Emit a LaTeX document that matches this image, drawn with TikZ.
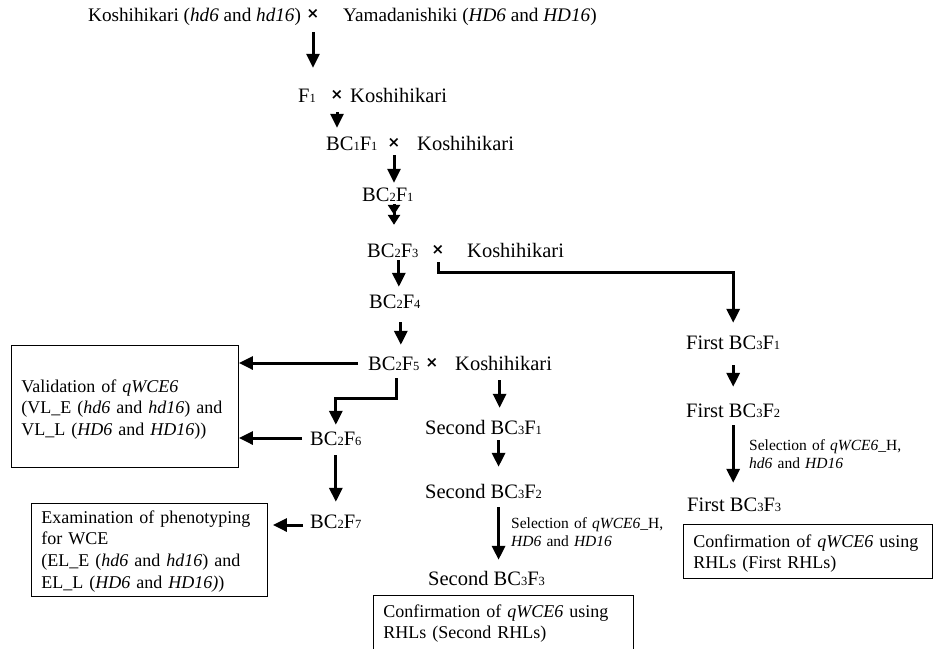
\documentclass[tikz,border=0pt]{standalone}
\usepackage{fontspec}
\setmainfont{Liberation Serif}
\newfontfamily\symfont{DejaVu Sans}
\usetikzlibrary{arrows.meta}

\newcommand{\topfont}{\fontsize{19.2}{23}\selectfont}
\newcommand{\labfont}{\fontsize{20.5}{24}\selectfont}
\newcommand{\boxfont}{\fontsize{18}{21.7}\selectfont}
\newcommand{\selfont}{\fontsize{15.5}{18.7}\selectfont}
\newcommand{\sbs}[1]{{\fontsize{12.5}{12.5}\selectfont #1}}
\newcommand{\crs}{\raisebox{2.5pt}{\fontsize{15}{15}\selectfont\symfont\bfseries ×}}

\begin{document}
\begin{tikzpicture}[x=1pt, y=-1pt,
    lab/.style={inner sep=0pt, text height=14pt, text depth=0pt, anchor=base west, font=\labfont},
    crossmark/.style={lab, anchor=base},
    infobox/.style={draw, line width=0.9pt, anchor=base west, inner xsep=10pt, inner ysep=0pt, align=left, font=\boxfont},
    sel/.style={anchor=base west, inner sep=0pt, align=left, text width=170pt, font=\selfont},
    flow/.style={line width=3pt, -{Triangle[width=13pt, length=14pt]}},
    dflow/.style={line width=3pt, -{Triangle[width=12pt, length=10pt]Triangle[width=12pt, length=10pt]}}]
    \useasboundingbox (0,0) rectangle (933,648);

    % Parents
    \node[lab, font=\topfont] (kosp) at (88,21) {Koshihikari (\textit{hd6} and \textit{hd16})};
    \node[crossmark] (cr0) at (313,21) {\crs};
    \node[lab, font=\topfont] (yam) at (343,21) {Yamadanishiki (\textit{HD6} and \textit{HD16})};

    % Backcrosses
    \node[lab] (f1) at (298,102) {F\sbs{1}};
    \node[crossmark] (cr1) at (337,102) {\crs};
    \node[lab] (kos1) at (350,102) {Koshihikari};

    \node[lab] (bc1f1) at (326,150) {BC\sbs{1}F\sbs{1}};
    \node[crossmark] (cr2) at (394,150) {\crs};
    \node[lab] (kos2) at (417,150) {Koshihikari};

    \node[lab] (bc2f1) at (362,201) {BC\sbs{2}F\sbs{1}};

    \node[lab] (bc2f3) at (367,257) {BC\sbs{2}F\sbs{3}};
    \node[crossmark] (cr4) at (438,257) {\crs};
    \node[lab] (kos4) at (467,257) {Koshihikari};

    \node[lab] (bc2f4) at (369,308) {BC\sbs{2}F\sbs{4}};

    \node[lab] (bc2f5) at (368,370) {BC\sbs{2}F\sbs{5}};
    \node[crossmark] (cr5) at (432,370) {\crs};
    \node[lab] (kos5) at (455,370) {Koshihikari};

    \node[lab] (bc2f6) at (310,445) {BC\sbs{2}F\sbs{6}};
    \node[lab] (bc2f7) at (310,528) {BC\sbs{2}F\sbs{7}};

    % Second RHLs
    \node[lab] (sb1) at (425,434) {Second BC\sbs{3}F\sbs{1}};
    \node[lab] (sb2) at (425,498) {Second BC\sbs{3}F\sbs{2}};
    \node[lab] (sb3) at (428,585) {Second BC\sbs{3}F\sbs{3}};
    \node[sel] (sel2) at (511,528) {Selection of \textit{qWCE6}\_H,\\\textit{HD6} and \textit{HD16}};

    % First RHLs
    \node[lab] (fb1) at (686,349) {First BC\sbs{3}F\sbs{1}};
    \node[lab] (fb2) at (686,417) {First BC\sbs{3}F\sbs{2}};
    \node[lab] (fb3) at (687,511) {First BC\sbs{3}F\sbs{3}};
    \node[sel] (sel1) at (749,450) {Selection of \textit{qWCE6}\_H,\\\textit{hd6} and \textit{HD16}};

    % Boxes
    \node[infobox, text width=207pt, text height=47pt, text depth=75pt] (valbox) at (11,392)
        {Validation of \textit{qWCE6}\\(VL\_E (\textit{hd6} and \textit{hd16}) and\\VL\_L (\textit{HD6} and \textit{HD16}))};
    \node[infobox, text width=216pt, text height=20pt, text depth=73pt] (exambox) at (31,523)
        {Examination of phenotyping\\for WCE\\(EL\_E (\textit{hd6} and \textit{hd16}) and\\EL\_L (\textit{HD6} and \textit{HD16)})};
    \node[infobox, text width=240pt, text height=22pt, text depth=43pt] (conf2) at (373,617)
        {Confirmation of \textit{qWCE6} using\\RHLs (Second RHLs)};
    \node[infobox, text width=229pt, text height=23pt, text depth=31pt] (conf1) at (683,547)
        {Confirmation of \textit{qWCE6} using\\RHLs (First RHLs)};

    % Main line
    \draw[flow, shorten <=11pt, shorten >=20pt] (cr0.south) -- (cr0.south |- f1.north);
    \draw[flow, shorten <=10pt, shorten >=8pt] (cr1.south) -- (cr1.south |- bc1f1.north);
    \draw[flow, shorten <=5pt, shorten >=4pt] (cr2.south) -- (cr2.south |- bc2f1.north);
    \draw[dflow, shorten <=3pt, shorten >=18pt] (bc2f1.south -| cr2.south) -- (cr2.south |- bc2f3.north);
    \draw[flow, shorten <=3pt, shorten >=7pt] ([xshift=6pt]bc2f3.south) -- ([xshift=6pt]bc2f3.south |- bc2f4.north);
    \draw[flow, shorten <=14pt, shorten >=11pt] ([xshift=6pt]bc2f4.south) -- ([xshift=6pt]bc2f4.south |- bc2f5.north);

    % To first RHLs
    \draw[flow, shorten <=5pt, shorten >=12pt] (cr4.south) |- ([yshift=-15pt]cr4.south -| fb1.north) -- (fb1.north);
    \draw[flow, shorten <=16pt, shorten >=16pt] (fb1.south) -- (fb2.north);
    \draw[flow, shorten <=8pt, shorten >=14pt] (fb2.south) -- (fb2.south |- fb3.north);

    % To second RHLs
    \draw[flow, shorten <=10pt, shorten >=12pt] ([xshift=-4pt]kos5.south) -- ([xshift=-4pt]kos5.south |- sb1.north);
    \draw[flow, shorten <=6pt, shorten >=17pt] ([xshift=15pt]sb1.south) -- ([xshift=15pt]sb2.north);
    \draw[flow, shorten <=9pt, shorten >=11pt] ([xshift=15pt]sb2.south) -- ([xshift=15pt]sb2.south |- sb3.north);

    % Selfing and evaluation
    \draw[flow, shorten <=10pt] (bc2f5.west) -- (bc2f5.west -| valbox.east);
    \draw[flow, shorten <=8pt, shorten >=6pt] ([xshift=3pt]bc2f5.south) |- ([yshift=-28pt]bc2f5.south -| bc2f6.north) -- (bc2f6.north);
    \draw[flow, shorten <=8pt] (bc2f6.west) -- (bc2f6.west -| valbox.east);
    \draw[flow, shorten <=10pt, shorten >=12pt] (bc2f6.south) -- (bc2f7.north);
    \draw[flow, shorten <=7pt, shorten >=5pt] ([yshift=-4pt]bc2f7.west) -- ([yshift=-4pt]bc2f7.west -| exambox.east);
\end{tikzpicture}
\end{document}
